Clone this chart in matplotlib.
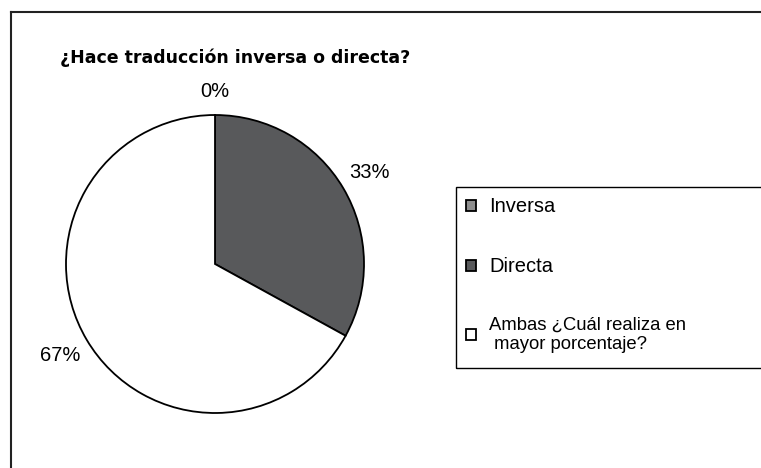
import numpy as np
import matplotlib.pyplot as plt
from matplotlib.lines import Line2D
from matplotlib.patches import Rectangle

# --- datos ---
categorias = ['Inversa', 'Directa', 'Ambas ¿Cuál realiza en\n mayor porcentaje?']
valores = [0, 33, 67]
etiquetas_pct = ['0%', '33%', '67%']
colores = ['#8e8e8e', '#58595b', '#ffffff']

W, H = 761, 468
fig = plt.figure(figsize=(W / 100, H / 100), dpi=100)
fig.patch.set_facecolor('white')

# marco exterior (solo izquierda y arriba visibles)
fig.add_artist(Line2D([11 / W, 11 / W], [0, 1 - 12 / H], color='#222222', lw=1.5))
fig.add_artist(Line2D([11 / W, 1], [1 - 12 / H, 1 - 12 / H], color='#222222', lw=1.5))

fig.text(60 / W, 1 - 58 / H, '¿Hace traducción inversa o directa?',
         fontsize=12.5, fontweight='bold', ha='left', va='center',
         family='DejaVu Sans')

# pastel: centro (215, 264), radio 149 px
cx, cy, r = 215, 264, 149
ax = fig.add_axes([(cx - r) / W, (H - cy - r) / H, 2 * r / W, 2 * r / H])
wedges, _ = ax.pie(valores, colors=colores, startangle=90, counterclock=False,
                   wedgeprops=dict(edgecolor='black', linewidth=1.3))
ax.set_xlim(-1, 1)
ax.set_ylim(-1, 1)
ax.set_aspect('equal')
ax.axis('off')

# etiquetas de porcentaje fuera del pastel
distancias = [1.155, 1.205, 1.205]
total = sum(valores)
ang = 90.0
for v, txt, d in zip(valores, etiquetas_pct, distancias):
    theta = np.deg2rad(ang - 360 * v / total / 2)
    ax.text(d * np.cos(theta), d * np.sin(theta), txt, ha='center', va='center',
            fontsize=14.5, family='Liberation Sans', clip_on=False)
    ang -= 360 * v / total

# recuadro de la leyenda
fig.add_artist(Rectangle((456 / W, 1 - 368 / H), 1 - 456 / W + 0.01, 181 / H,
                         transform=fig.transFigure, facecolor='none',
                         edgecolor='black', linewidth=1.0))

leg = fig.legend(wedges, categorias, loc='upper left',
                 bbox_to_anchor=(456 / W, 1 - 187 / H),
                 prop={'family': 'Liberation Sans', 'size': 13.3},
                 handlelength=0.54, handleheight=0.54, handletextpad=0.7,
                 labelspacing=2.2, borderpad=0.55, frameon=False,
                 borderaxespad=0)
for t in leg.get_texts()[:2]:
    t.set_fontsize(14.5)

fig.savefig('out.png', dpi=100, facecolor='white')
